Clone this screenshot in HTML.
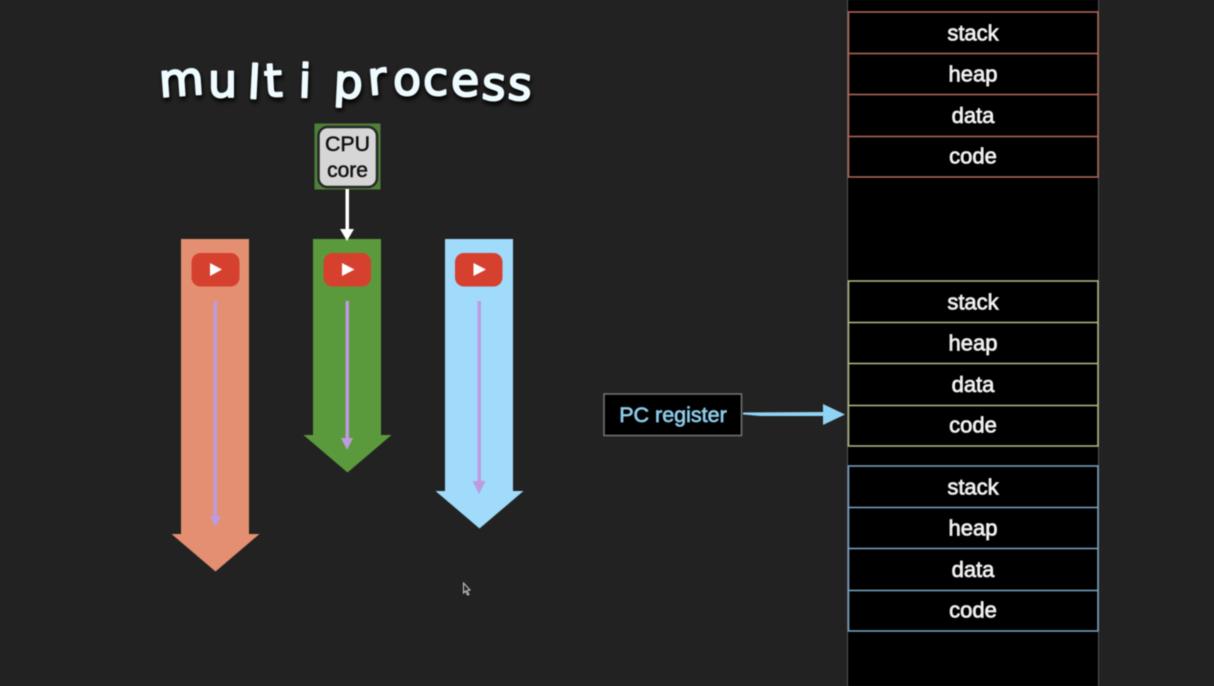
<!DOCTYPE html>
<html><head><meta charset="utf-8"><style>
html,body{margin:0;padding:0;background:#222;width:1214px;height:686px;overflow:hidden}
svg{display:block;filter:blur(.45px)}
text{font-family:"Liberation Sans",sans-serif}
.s{font-size:22px;fill:#f0f0f0;text-anchor:middle;stroke:#f0f0f0;stroke-width:.75}
.t{font-family:"DejaVu Sans",sans-serif;font-size:46px;stroke-linejoin:round;stroke-linecap:round}
</style></head><body>
<svg width="1214" height="686" viewBox="0 0 1214 686" xmlns="http://www.w3.org/2000/svg">
<defs><filter id="b" x="-10%" y="-30%" width="120%" height="160%"><feGaussianBlur stdDeviation="2.500"/></filter></defs>
<rect width="1214" height="686" fill="#222"/>
<rect x="847.500" y="-2" width="251" height="690" fill="#000" stroke="#555" stroke-width="1"/>

<!-- title -->
<text class="t" filter="url(#b)" transform="translate(1 3)" fill="#000" stroke="#000" stroke-width="2.500" x="160 208 247 265 298 320 333 369 393 423 451 481 507" y="97 97 98 97 97 97 97 95 95 95 96 99 99" rotate="-4 0 3 -3 2 0 3 -5 0 0 0 4 4">multi process</text>
<text class="t" fill="#eefbff" stroke="#eefbff" stroke-width="2" x="160 208 247 265 298 320 333 369 393 423 451 481 507" y="97 97 98 97 97 97 97 95 95 95 96 99 99" rotate="-4 0 3 -3 2 0 3 -5 0 0 0 4 4">multi process</text>

<!-- big arrows -->
<polygon points="181,239 249,239 249,534 259.500,534 215.500,571.500 171.500,534 181,534" fill="#e48f72"/>
<polygon points="313,239 381,239 381,435 391.500,435 347.500,472.500 303.500,435 313,435" fill="#5a9a3c"/>
<polygon points="445,239 513,239 513,491 523.500,491 479.500,528.500 435.500,491 445,491" fill="#a0dbfb"/>

<!-- purple arrows -->
<g fill="#bd9be0">
<rect x="213.500" y="301" width="3.500" height="216"/><polygon points="210,516 221,516 215.500,527"/>
<rect x="345.500" y="301" width="3.500" height="138"/><polygon points="341,438 353,438 347,450"/>
<rect x="477.500" y="301" width="3.500" height="181"/><polygon points="472.500,481 485.500,481 479,494"/>
</g>

<!-- youtube icons -->
<g>
<rect x="191.500" y="253" width="48" height="33.500" rx="9" fill="#d5402f"/><polygon points="210,263 222,269.500 210,276" fill="#fff"/>
<rect x="323.500" y="253" width="47.500" height="33.500" rx="9" fill="#d5402f"/><polygon points="342,263 354.500,269.500 342,276" fill="#fff"/>
<rect x="455" y="253" width="47.500" height="33.500" rx="9" fill="#d5402f"/><polygon points="473.500,263 486,269.500 473.500,276" fill="#fff"/>
</g>

<!-- cpu -->
<rect x="314.500" y="123.500" width="66" height="66" fill="#4f8039"/>
<rect x="318.500" y="127" width="58.500" height="60" rx="9" fill="#d6d6d6" stroke="#262626" stroke-width="2.500"/>
<text x="347.500" y="151" font-size="21.300" fill="#111" stroke="#111" stroke-width=".5" text-anchor="middle">CPU</text>
<text x="347.500" y="177" font-size="21" fill="#111" stroke="#111" stroke-width=".5" text-anchor="middle">core</text>
<rect x="345.500" y="189" width="3.500" height="42" fill="#fff"/>
<polygon points="340,229 354,229 347,241" fill="#fff"/>

<!-- PC register -->
<rect x="604" y="394" width="137.500" height="41.500" fill="#000" stroke="#777" stroke-width="1.500"/>
<text x="673" y="422" font-size="21.500" fill="#8ccbe8" stroke="#8ccbe8" stroke-width=".7" text-anchor="middle">PC register</text>
<polygon points="743,412.500 825,412 825,416 760,416 743,414.500" fill="#8fd3f5"/>
<polygon points="823,404 845,414.500 823,425" fill="#8fd3f5"/>

<!-- red stack -->
<g fill="none" stroke="#b4695a" stroke-width="1.500">
<rect x="848.500" y="12" width="249.500" height="165"/>
<path d="M848.500 53.500H1098M848.500 94.500H1098M848.500 136.500H1098"/>
</g>
<text x="973" y="40.700" class="s">stack</text><text x="973" y="81.500" class="s">heap</text><text x="973" y="123" class="s">data</text><text x="973" y="163.700" class="s">code</text>

<!-- green stack -->
<g fill="none" stroke="#b0bd86" stroke-width="1.500">
<rect x="848.500" y="281" width="249.500" height="165"/>
<path d="M848.500 322.500H1098M848.500 363.500H1098M848.500 405.500H1098"/>
</g>
<text x="973" y="309.700" class="s">stack</text><text x="973" y="350.500" class="s">heap</text><text x="973" y="392" class="s">data</text><text x="973" y="432.700" class="s">code</text>

<!-- blue stack -->
<g fill="none" stroke="#7ba6c4" stroke-width="1.500">
<rect x="848.500" y="466" width="249.500" height="165"/>
<path d="M848.500 507.500H1098M848.500 548.500H1098M848.500 590.500H1098"/>
</g>
<text x="973" y="494.700" class="s">stack</text><text x="973" y="535.500" class="s">heap</text><text x="973" y="577" class="s">data</text><text x="973" y="617.700" class="s">code</text>

<!-- cursor -->
<polygon points="463.500,583 470,590 467,590.500 469,594.500 467.500,595 465.500,591 463.500,593" fill="#222" stroke="#ccc" stroke-width="1"/>
</svg>
</body></html>
